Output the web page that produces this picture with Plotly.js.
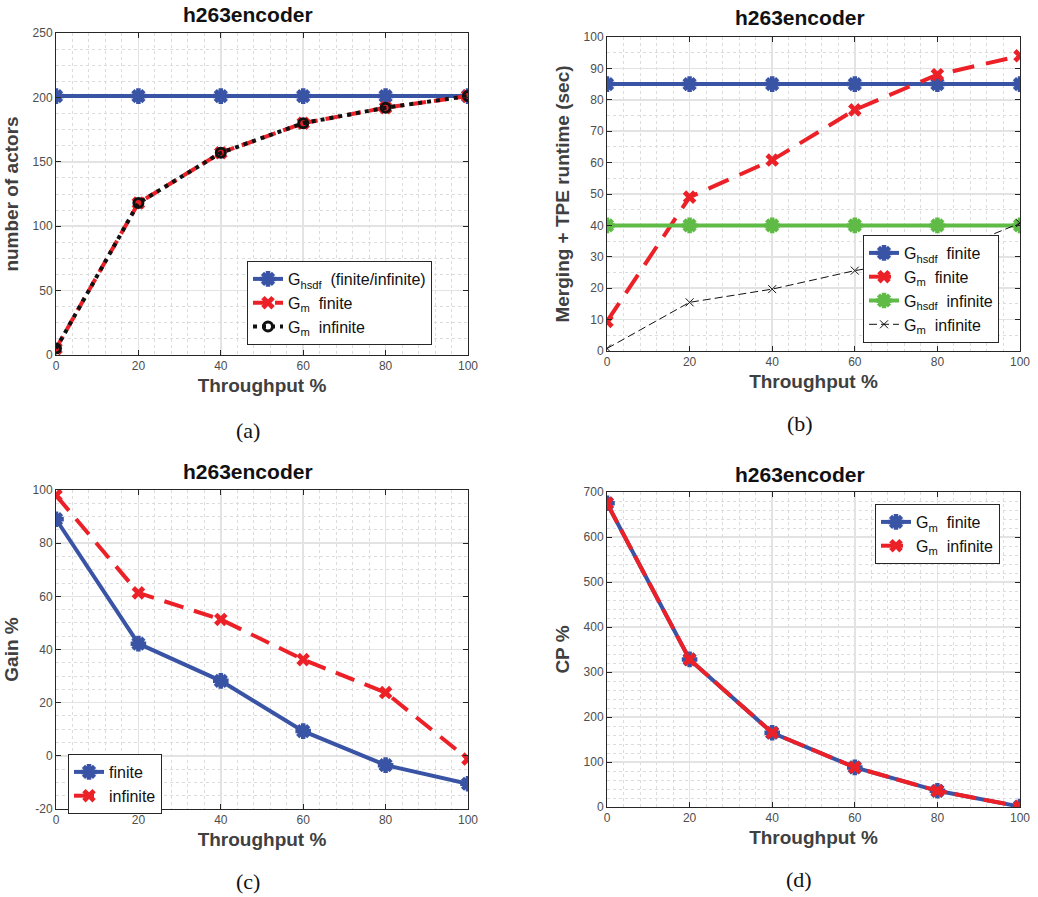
<!DOCTYPE html>
<html>
<head>
<meta charset="utf-8">
<script src="https://cdn.plot.ly/plotly-3.0.1.min.js"></script>
<style>html,body{margin:0;padding:0;background:#fff;}#chart{width:1038px;height:897px;}</style>
</head>
<body>
<div id="chart"></div>
<script>
// ---- data ----
const throughput = [0, 20, 40, 60, 80, 100];

// (a) number of actors
const actorsHsdf = [201, 201, 201, 201, 201, 201];
const actorsGmFinite = [5, 118, 157, 180, 192, 201];
const actorsGmInfinite = [5, 118, 157, 180, 192, 201];

// (b) merging + TPE runtime (sec)
const runtimeHsdfFinite = [85, 85, 85, 85, 85, 85];
const runtimeGmFinite = [9.4, 49, 60.8, 76.8, 88, 94];
const runtimeHsdfInfinite = [40, 40, 40, 40, 40, 40];
const runtimeGmInfinite = [0.8, 15.5, 19.7, 25.6, 30, 40.7];

// (c) gain %
const gainFinite = [89, 42.2, 28.2, 9.3, -3.5, -10.5];
const gainInfinite = [98, 61.3, 51.3, 36.2, 23.8, -1.2];

// (d) CP %
const cpGmFinite = [675, 328, 165, 88, 36, 1];
const cpGmInfinite = [675, 328, 165, 88, 36, 1];

const xTicks = [0, 20, 40, 60, 80, 100];
const gainTicks = [-20, 0, 20, 40, 60, 80, 100];
const chartTitle = 'h263encoder';
const xTitle = 'Throughput %';
const captions = ['(a)', '(b)', '(c)', '(d)'];

// ---- styles ----
const BLUE = '#3a54a5', RED = '#ec2128', GREEN = '#5fba46', BLACK = '#111111';
const W = 1038, H = 897;
const px = v => v / W;
const py = v => 1 - v / H;

const blueMarker = {symbol: 'asterisk-open', size: 13, color: BLUE, line: {color: BLUE, width: 4.5}};
const greenMarker = {symbol: 'asterisk-open', size: 13, color: GREEN, line: {color: GREEN, width: 4.5}};
const redX = {symbol: 'x', size: 12, color: RED, line: {width: 0}};

const traces = [
  // (a)
  {x: throughput, y: actorsHsdf, name: 'G<sub>hsdf</sub>  (finite/infinite)', mode: 'lines+markers',
   line: {color: BLUE, width: 4}, marker: blueMarker, xaxis: 'x', yaxis: 'y', legend: 'legend'},
  {x: throughput, y: actorsGmFinite, name: 'G<sub>m</sub>  finite', mode: 'lines+markers',
   line: {color: RED, width: 4, dash: '14px,8px'}, marker: redX, xaxis: 'x', yaxis: 'y', legend: 'legend'},
  {x: throughput, y: actorsGmInfinite, name: 'G<sub>m</sub>  infinite', mode: 'lines+markers',
   line: {color: BLACK, width: 4, dash: '4px,5px'},
   marker: {symbol: 'circle-open', size: 9, color: BLACK, line: {color: BLACK, width: 3}},
   xaxis: 'x', yaxis: 'y', legend: 'legend'},
  // (b)
  {x: throughput, y: runtimeHsdfFinite, name: 'G<sub>hsdf</sub>  finite', mode: 'lines+markers',
   line: {color: BLUE, width: 4}, marker: blueMarker, xaxis: 'x2', yaxis: 'y2', legend: 'legend2'},
  {x: throughput, y: runtimeGmFinite, name: 'G<sub>m</sub>  finite', mode: 'lines+markers',
   line: {color: RED, width: 4, dash: '22px,12px'}, marker: redX, xaxis: 'x2', yaxis: 'y2', legend: 'legend2'},
  {x: throughput, y: runtimeHsdfInfinite, name: 'G<sub>hsdf</sub>  infinite', mode: 'lines+markers',
   line: {color: GREEN, width: 4}, marker: greenMarker, xaxis: 'x2', yaxis: 'y2', legend: 'legend2'},
  {x: throughput, y: runtimeGmInfinite, name: 'G<sub>m</sub>  infinite', mode: 'lines+markers',
   line: {color: BLACK, width: 1, dash: '8px,4px'},
   marker: {symbol: 'x-thin-open', size: 8, color: BLACK, line: {color: BLACK, width: 1}},
   xaxis: 'x2', yaxis: 'y2', legend: 'legend2'},
  // (c)
  {x: throughput, y: gainFinite, name: 'finite', mode: 'lines+markers',
   line: {color: BLUE, width: 4}, marker: blueMarker, xaxis: 'x3', yaxis: 'y3', legend: 'legend3'},
  {x: throughput, y: gainInfinite, name: 'infinite', mode: 'lines+markers',
   line: {color: RED, width: 4, dash: '20px,11px'}, marker: redX, xaxis: 'x3', yaxis: 'y3', legend: 'legend3'},
  // (d)
  {x: throughput, y: cpGmFinite, name: 'G<sub>m</sub>  finite', mode: 'lines+markers',
   line: {color: BLUE, width: 4}, marker: blueMarker, xaxis: 'x4', yaxis: 'y4', legend: 'legend4'},
  {x: throughput, y: cpGmInfinite, name: 'G<sub>m</sub>  infinite', mode: 'lines+markers',
   line: {color: RED, width: 4, dash: '22px,8px'}, marker: redX, xaxis: 'x4', yaxis: 'y4', legend: 'legend4'}
];

const FONT = '"Liberation Sans", Arial, sans-serif';
const tickFont = {family: FONT, size: 12, color: '#4d4d4d'};
const axTitleFont = {family: FONT, size: 19, color: '#404040', weight: 'bold'};

function xAxis(domain, anchor) {
  return {
    domain: domain, anchor: anchor, range: [0, 100], tickvals: xTicks, ticktext: xTicks.map(String),
    showline: true, mirror: 'allticks', linecolor: '#262626', linewidth: 1,
    ticks: 'inside', ticklen: 5, tickcolor: '#262626', tickfont: tickFont,
    showgrid: true, gridcolor: '#e3e3e3', gridwidth: 1.5, zeroline: false,
    minor: {dtick: 4, tick0: 0, showgrid: true, gridcolor: '#dcdcdc', griddash: 'dot', gridwidth: 1, ticks: ''},
    title: {text: xTitle, font: axTitleFont, standoff: 6},
    automargin: false, fixedrange: true
  };
}
function yAxis(domain, anchor, range, dtick, minorDtick, title, tickvals) {
  const ax = {
    domain: domain, anchor: anchor, range: range, dtick: dtick, tick0: 0,
    showline: true, mirror: 'allticks', linecolor: '#262626', linewidth: 1,
    ticks: 'inside', ticklen: 5, tickcolor: '#262626', tickfont: tickFont,
    showgrid: true, gridcolor: '#e3e3e3', gridwidth: 1.5, zeroline: false,
    minor: {dtick: minorDtick, tick0: 0, showgrid: true, gridcolor: '#dcdcdc', griddash: 'dot', gridwidth: 1, ticks: ''},
    title: {text: title, font: axTitleFont, standoff: 8},
    automargin: false, fixedrange: true
  };
  if (tickvals) { ax.tickmode = 'array'; ax.tickvals = tickvals; ax.ticktext = tickvals.map(String); }
  return ax;
}

const legendBase = {
  xref: 'paper', yref: 'paper', xanchor: 'left', yanchor: 'top',
  bgcolor: '#ffffff', bordercolor: '#262626', borderwidth: 1,
  font: {family: FONT, size: 16, color: '#111111'}, tracegroupgap: 0, itemwidth: 30
};

const annFont = {family: FONT, size: 21, color: '#111111', weight: 'bold'};
const capFont = {family: '"Liberation Serif", "Times New Roman", serif', size: 22, color: '#111111'};

function ann(text, x, y, font) {
  return {text: text, xref: 'paper', yref: 'paper', x: px(x), y: py(y), showarrow: false,
          xanchor: 'center', yanchor: 'middle', font: font};
}

const layout = {
  width: W, height: H, margin: {l: 0, r: 0, t: 0, b: 0},
  paper_bgcolor: '#ffffff', plot_bgcolor: '#ffffff',
  showlegend: true,
  xaxis: xAxis([px(56), px(468)], 'y'),
  yaxis: yAxis([py(355), py(33)], 'x', [0, 250], 50, 12.5, 'number of actors'),
  xaxis2: xAxis([px(607), px(1020)], 'y2'),
  yaxis2: yAxis([py(351), py(37)], 'x2', [0, 100], 10, 5, 'Merging + TPE runtime (sec)'),
  xaxis3: xAxis([px(56), px(468)], 'y3'),
  yaxis3: yAxis([py(809), py(490)], 'x3', [-20, 100], 20, 5, 'Gain %', gainTicks),
  xaxis4: xAxis([px(607), px(1020)], 'y4'),
  yaxis4: yAxis([py(807), py(492)], 'x4', [0, 700], 100, 20, 'CP %'),
  legend: Object.assign({}, legendBase, {x: px(247), y: py(261)}),
  legend2: Object.assign({}, legendBase, {x: px(863), y: py(235)}),
  legend3: Object.assign({}, legendBase, {x: px(68), y: py(754)}),
  legend4: Object.assign({}, legendBase, {x: px(875), y: py(504)}),
  annotations: [
    ann(chartTitle, 248, 15, annFont),
    ann(chartTitle, 800, 18, annFont),
    ann(chartTitle, 248, 472, annFont),
    ann(chartTitle, 800, 474, annFont),
    ann(captions[0], 248, 430, capFont),
    ann(captions[1], 800, 423, capFont),
    ann(captions[2], 248, 881, capFont),
    ann(captions[3], 799, 879, capFont)
  ]
};

Plotly.newPlot('chart', traces, layout, {displayModeBar: false, staticPlot: true});
</script>
</body>
</html>
